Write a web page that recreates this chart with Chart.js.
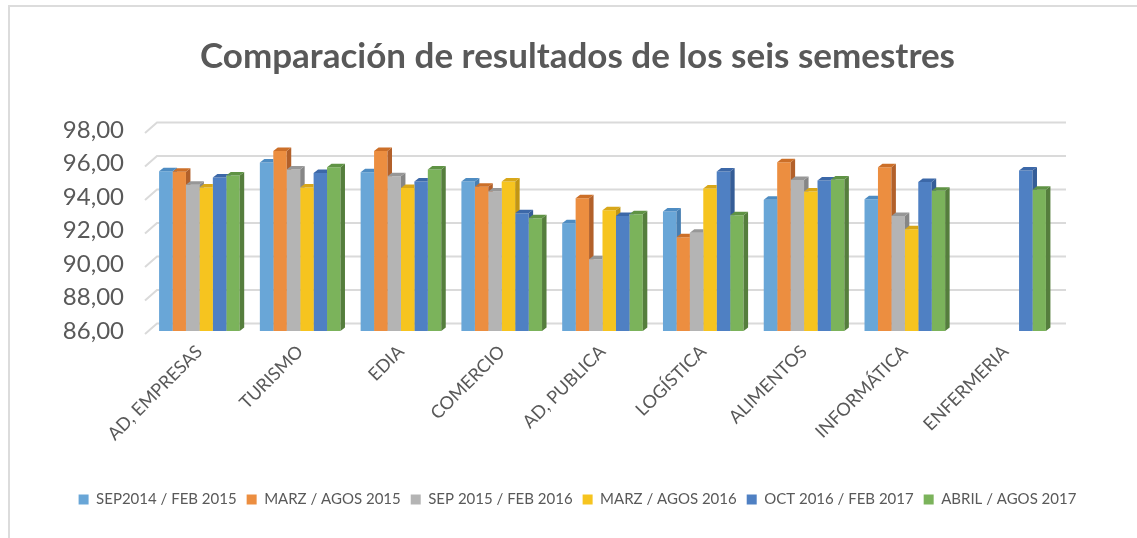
<!DOCTYPE html>
<html>
<head>
<meta charset="utf-8">
<script src="https://cdn.jsdelivr.net/npm/chart.js@4/dist/chart.umd.min.js"></script>
<style>
  html, body { margin: 0; padding: 0; background: #ffffff; overflow: hidden; }
  #wrap { position: relative; width: 1137px; height: 538px; overflow: hidden; }
  #frame { position: absolute; left: 8px; top: 5px; width: 1300px; height: 700px; border: 2px solid #dcdcdc; box-sizing: border-box; }
  canvas { position: absolute; left: 0; top: 0; }
</style>
</head>
<body>
<div id="wrap">
  <div id="frame"></div>
  <canvas id="c" width="1137" height="538"></canvas>
</div>
<script>
const categories = ['AD, EMPRESAS', 'TURISMO', 'EDIA', 'COMERCIO', 'AD, PUBLICA', 'LOGÍSTICA', 'ALIMENTOS', 'INFORMÁTICA', 'ENFERMERIA'];
const seriesNames = ['SEP2014 / FEB 2015', 'MARZ / AGOS 2015', 'SEP 2015 / FEB 2016', 'MARZ / AGOS 2016', 'OCT 2016 / FEB 2017', 'ABRIL / AGOS 2017'];
const sep2014feb2015 = [95.54, 96.06, 95.48, 94.93, 92.43, 93.13, 93.83, 93.87, null];
const marzAgos2015   = [95.51, 96.74, 96.74, 94.61, 93.92, 91.60, 96.08, 95.78, null];
const sep2015feb2016 = [94.73, 95.64, 95.24, 94.33, 90.29, 91.86, 95.02, 92.87, null];
const marzAgos2016   = [94.57, 94.57, 94.53, 94.93, 93.21, 94.51, 94.33, 92.07, null];
const oct2016feb2017 = [95.17, 95.44, 94.93, 93.03, 92.87, 95.52, 94.98, 94.89, 95.58];
const abrilAgos2017  = [95.28, 95.78, 95.64, 92.73, 92.97, 92.91, 95.04, 94.37, 94.43];
const yTicks = [86, 88, 90, 92, 94, 96, 98];

const seriesValues = [sep2014feb2015, marzAgos2015, sep2015feb2016, marzAgos2016, oct2016feb2017, abrilAgos2017];
const frontColors = ['#69A6D7', '#EC8E40', '#B4B4B4', '#F6C41F', '#4F80C3', '#7BB35B'];
const topColors   = ['#4E8CC2', '#CC6F28', '#979797', '#D8A719', '#3C68A8', '#5F9344'];
const sideColors  = ['#477FB2', '#B2602A', '#868686', '#C29613', '#355D97', '#557E3D'];

const TEXT = '#595959';
const FONT = 'Lato';
const DX = 4.5, DY = 3.5;

const threeD = {
  id: 'threeD',
  beforeDatasetsDraw(chart) {
    const ctx = chart.ctx, y = chart.scales.y, a = chart.chartArea;
    ctx.save();
    ctx.strokeStyle = '#dadada';
    ctx.lineWidth = 2;
    y.ticks.forEach(t => {
      const py = y.getPixelForValue(t.value);
      ctx.beginPath();
      ctx.moveTo(a.left - 4, py + 3);
      ctx.lineTo(a.left + 8, py - 7.5);
      ctx.lineTo(a.right + 10, py - 7.5);
      ctx.stroke();
    });
    ctx.restore();
  },
  afterDatasetsDraw(chart) {
    const ctx = chart.ctx;
    const nd = chart.data.datasets.length;
    const floor = chart.scales.y.getPixelForValue(chart.scales.y.min);
    for (let c = 0; c < chart.data.labels.length; c++) {
      for (let d = 0; d < nd; d++) {
        const v = chart.data.datasets[d].data[c];
        if (v == null) continue;
        const el = chart.getDatasetMeta(d).data[c];
        const p = el.getProps(['x', 'y', 'width'], true);
        const left = p.x - p.width / 2, right = p.x + p.width / 2;
        let nextTop = null;
        if (d + 1 < nd && chart.data.datasets[d + 1].data[c] != null) {
          nextTop = chart.getDatasetMeta(d + 1).data[c].getProps(['y'], true).y;
        }
        ctx.save();
        if (nextTop !== null) {
          ctx.beginPath();
          ctx.rect(left - 2, 0, right - left + 2, chart.height);
          ctx.rect(right, 0, DX + 3, nextTop);
          ctx.clip();
        }
        // side face
        ctx.fillStyle = sideColors[d];
        ctx.beginPath();
        ctx.moveTo(right, p.y);
        ctx.lineTo(right + DX, p.y - DY);
        ctx.lineTo(right + DX, floor - DY);
        ctx.lineTo(right, floor);
        ctx.closePath();
        ctx.fill();
        // top face
        ctx.fillStyle = topColors[d];
        ctx.beginPath();
        ctx.moveTo(left, p.y);
        ctx.lineTo(left + DX, p.y - DY);
        ctx.lineTo(right + DX, p.y - DY);
        ctx.lineTo(right, p.y);
        ctx.closePath();
        ctx.fill();
        ctx.restore();
      }
    }
  }
};

const datasets = seriesNames.map((name, i) => ({
  label: name,
  data: seriesValues[i],
  backgroundColor: frontColors[i],
  borderWidth: 0,
  categoryPercentage: 0.8,
  barPercentage: 1.0
}));

new Chart(document.getElementById('c'), {
  type: 'bar',
  data: { labels: categories, datasets },
  plugins: [threeD],
  options: {
    responsive: false,
    animation: false,
    layout: { padding: { left: 18, right: 0, top: 0, bottom: 21 } },
    plugins: {
      tooltip: { enabled: false },
      title: {
        display: true,
        text: 'Comparación de resultados de los seis semestres',
        color: TEXT,
        font: { family: FONT, size: 35, weight: 'bold' },
        padding: { top: 36, bottom: 52 }
      },
      legend: {
        position: 'bottom',
        labels: {
          color: TEXT,
          font: { family: FONT, size: 15 },
          boxWidth: 10,
          boxHeight: 10,
          padding: 10
        }
      }
    },
    scales: {
      x: {
        grid: { display: false },
        border: { display: false },
        ticks: {
          color: TEXT,
          font: { family: FONT, size: 18 },
          maxRotation: 45,
          minRotation: 45,
          autoSkip: false,
          padding: 2
        },
        afterFit(s) { s.height = 151; }
      },
      y: {
        min: 86,
        max: 98,
        afterBuildTicks(s) { s.ticks = yTicks.map(v => ({ value: v })); },
        grid: { display: false },
        border: { display: false },
        ticks: {
          color: TEXT,
          font: { family: FONT, size: 24 },
          padding: 17,
          callback: v => v.toFixed(2).replace('.', ',')
        },
        afterFit(s) { s.width = 131; }
      },
      y2: {
        position: 'right',
        display: true,
        grid: { display: false },
        border: { display: false },
        ticks: { display: false },
        afterFit(s) { s.width = 81; }
      }
    }
  }
});
</script>
</body>
</html>
